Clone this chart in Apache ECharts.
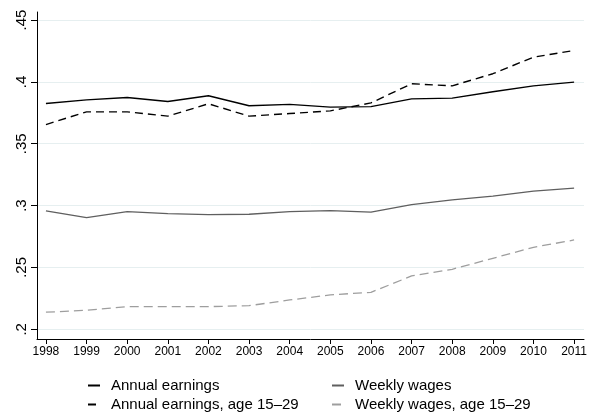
<!DOCTYPE html>
<html>
<head>
<meta charset="utf-8">
<script src="https://cdn.jsdelivr.net/npm/echarts@6/dist/echarts.min.js"></script>
<style>
  html, body { margin: 0; padding: 0; background: #fff; }
  #chart { width: 590px; height: 413px; }
</style>
</head>
<body>
<div id="chart"></div>
<script>
// Years on the horizontal axis
const years = [1998, 1999, 2000, 2001, 2002, 2003, 2004, 2005, 2006, 2007, 2008, 2009, 2010, 2011];

// Inequality measures by year
const annualEarnings      = [0.3825, 0.3855, 0.3874, 0.3841, 0.3888, 0.3807, 0.3818, 0.3796, 0.3800, 0.3863, 0.3869, 0.3920, 0.3968, 0.3998];
const annualEarningsYoung = [0.3655, 0.3758, 0.3758, 0.3723, 0.3823, 0.3723, 0.3744, 0.3766, 0.3830, 0.3985, 0.3968, 0.4066, 0.4200, 0.4254];
const weeklyWages         = [0.2957, 0.2903, 0.2952, 0.2935, 0.2927, 0.2930, 0.2952, 0.2960, 0.2947, 0.3008, 0.3046, 0.3076, 0.3117, 0.3141];
const weeklyWagesYoung    = [0.2138, 0.2154, 0.2183, 0.2183, 0.2183, 0.2191, 0.2237, 0.2278, 0.2299, 0.2431, 0.2485, 0.2574, 0.2663, 0.2722];

// Tick values on the vertical axis
const yTicks = [0.2, 0.25, 0.3, 0.35, 0.4, 0.45];
const yTickLabels = ['.2', '.25', '.3', '.35', '.4', '.45'];

const seriesNames = [
  'Annual earnings',
  'Annual earnings, age 15\u201329',
  'Weekly wages',
  'Weekly wages, age 15\u201329'
];

const pairs = arr => years.map((y, i) => [y, arr[i]]);

const chart = echarts.init(document.getElementById('chart'), null, { renderer: 'canvas' });

const font = 'Liberation Sans, Arial, Helvetica, sans-serif';

function line(name, data, color, width, dash) {
  return {
    name: name,
    type: 'line',
    data: pairs(data),
    symbol: 'none',
    showSymbol: false,
    smooth: false,
    animation: false,
    lineStyle: { color: color, width: width, type: dash || 'solid' },
    itemStyle: { color: color },
    emphasis: { disabled: true }
  };
}

// One legend entry per slot: two columns of two rows
function legendItem(name, left, top) {
  return {
    left: left,
    top: top,
    padding: 0,
    itemWidth: 12,
    itemHeight: 12,
    selectedMode: false,
    itemStyle: { opacity: 0 },
    data: [name],
    textStyle: { fontFamily: font, fontSize: 15, color: '#000', padding: [0, 0, 0, 6] }
  };
}

chart.setOption({
  backgroundColor: '#ffffff',
  animation: false,
  grid: { left: 37, right: 2, top: 12, bottom: 74, containLabel: false },
  legend: [
    legendItem(seriesNames[0], 87, 378),
    legendItem(seriesNames[1], 87, 397),
    legendItem(seriesNames[2], 331, 378),
    legendItem(seriesNames[3], 331, 397)
  ],
  xAxis: {
    type: 'value',
    min: 1997.78,
    max: 2011.244,
    axisLine: { show: true, lineStyle: { color: '#000', width: 1 } },
    axisTick: { show: true, length: 5, lineStyle: { color: '#000' }, customValues: years },
    axisLabel: {
      customValues: years,
      fontFamily: font,
      fontSize: 12,
      color: '#000',
      margin: 7,
      formatter: v => String(Math.round(v))
    },
    splitLine: { show: false }
  },
  yAxis: {
    type: 'value',
    min: 0.19215,
    max: 0.4565,
    axisLine: { show: true, lineStyle: { color: '#000', width: 1 } },
    axisTick: { show: true, length: 6, lineStyle: { color: '#000' }, customValues: yTicks },
    axisLabel: {
      customValues: yTicks,
      rotate: 90,
      fontFamily: font,
      fontSize: 15,
      color: '#000',
      margin: 8,
      formatter: v => {
        const i = yTicks.findIndex(t => Math.abs(t - v) < 1e-6);
        return i >= 0 ? yTickLabels[i] : '';
      }
    },
    splitLine: { show: true, lineStyle: { color: '#e6eff0', width: 1 } }
  },
  series: [
    line(seriesNames[0], annualEarnings, '#000000', 1.4),
    line(seriesNames[1], annualEarningsYoung, '#000000', 1.4, [8, 5]),
    line(seriesNames[2], weeklyWages, '#5f5f5f', 1.3),
    line(seriesNames[3], weeklyWagesYoung, '#9e9e9e', 1.3, [9, 5])
  ]
});
</script>
</body>
</html>
